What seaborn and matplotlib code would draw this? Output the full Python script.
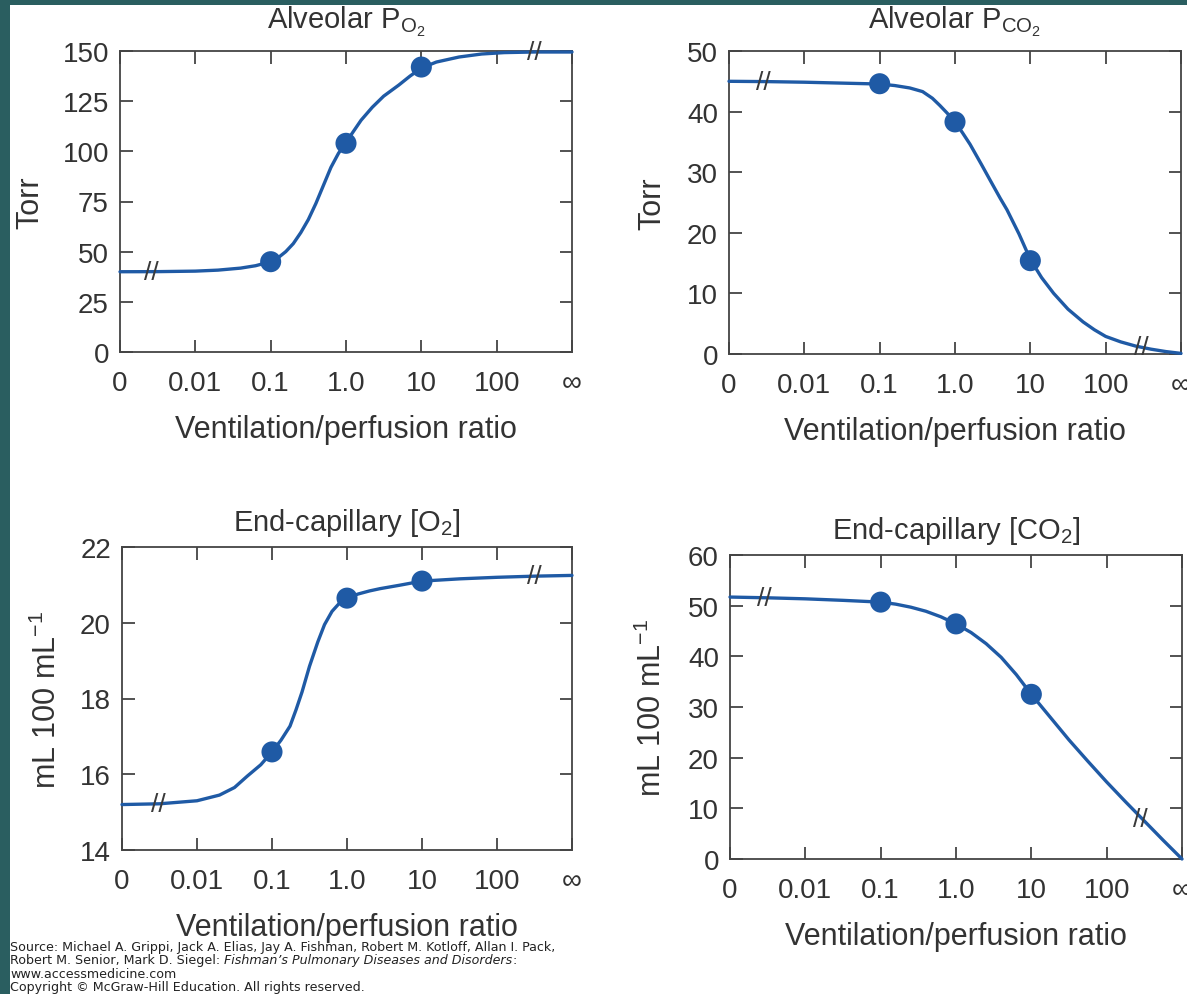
import matplotlib
matplotlib.use("Agg")
import matplotlib.pyplot as plt
import seaborn as sns
import pandas as pd
from matplotlib.patches import Rectangle

# ---------------- data ----------------
# x positions: 0 -> "0", 1 -> 0.01, 2 -> 0.1, 3 -> 1.0, 4 -> 10, 5 -> 100, 6 -> infinity
tick_pos = [0, 1, 2, 3, 4, 5, 6]
tick_labels = ["0", "0.01", "0.1", "1.0", "10", "100", "∞"]

# Alveolar PO2 curve (Torr)
po2_u = [0, 0.5, 1.0, 1.3, 1.6, 1.8, 2.0, 2.1, 2.2, 2.3, 2.4, 2.5, 2.6, 2.7, 2.8, 2.9, 3.0,
         3.1, 3.2, 3.35, 3.5, 3.7, 3.85, 4.0, 4.2, 4.5, 4.8, 5.1, 5.5, 6.0]
po2_v = [40, 40.05, 40.3, 40.8, 41.8, 43.0, 45, 47, 50, 54, 59.5, 66, 74, 83, 92, 99, 104.5,
         110, 115.5, 122, 127.5, 133, 137.5, 141.5, 144.5, 147, 148.5, 149.2, 149.5, 149.5]
po2_pts_u = [2, 3, 4]
po2_pts_v = [45, 104, 142]

# Alveolar PCO2 curve (Torr)
pco2_u = [0, 0.5, 1.0, 1.5, 2.0, 2.2, 2.4, 2.57, 2.7, 2.8, 2.9, 3.0, 3.1, 3.2, 3.35, 3.47,
          3.6, 3.69, 3.85, 4.0, 4.15, 4.31, 4.5, 4.7, 4.85, 5.0, 5.2, 5.4, 5.6, 5.8, 6.0]
pco2_v = [45, 44.95, 44.85, 44.7, 44.55, 44.3, 43.9, 43.3, 42.2, 41.0, 39.7, 38.3, 36.5, 34.6,
          31.3, 28.6, 25.7, 23.8, 19.8, 15.6, 12.6, 10.0, 7.4, 5.3, 4.0, 2.9, 2.0, 1.3, 0.8, 0.4, 0.1]
pco2_pts_u = [2, 3, 4]
pco2_pts_v = [44.6, 38.3, 15.4]

# End-capillary [O2] curve (mL 100 mL^-1)
o2_u = [0, 0.5, 1.0, 1.3, 1.5, 1.67, 1.85, 2.0, 2.12, 2.24, 2.32, 2.4, 2.5, 2.61, 2.7, 2.8,
        2.9, 3.0, 3.15, 3.3, 3.44, 3.7, 4.0, 4.51, 5.0, 5.5, 6.0]
o2_v = [15.2, 15.22, 15.3, 15.45, 15.65, 15.95, 16.25, 16.59, 16.9, 17.27, 17.7, 18.17, 18.85,
        19.49, 19.95, 20.3, 20.52, 20.65, 20.76, 20.84, 20.9, 20.99, 21.1, 21.16, 21.2, 21.23, 21.25]
o2_pts_u = [2, 3, 4]
o2_pts_v = [16.59, 20.65, 21.1]

# End-capillary [CO2] curve (mL 100 mL^-1)
co2_u = [0, 0.5, 1.0, 1.5, 2.0, 2.2, 2.4, 2.6, 2.8, 3.0, 3.2, 3.4, 3.6, 3.8, 4.0, 4.25,
         4.5, 4.75, 5.0, 5.25, 5.5, 5.75, 6.0]
co2_v = [51.7, 51.55, 51.35, 51.05, 50.7, 50.3, 49.7, 48.9, 47.8, 46.4, 44.7, 42.5, 39.8,
         36.4, 32.5, 28.0, 23.5, 19.3, 15.2, 11.3, 7.5, 3.7, 0.0]
co2_pts_u = [2, 3, 4]
co2_pts_v = [50.7, 46.4, 32.5]

# axis break marks (u, value) for each panel
po2_breaks_u, po2_breaks_v = [0.42, 5.5], [40, 149.5]
pco2_breaks_u, pco2_breaks_v = [0.45, 5.47], [44.95, 1.1]
o2_breaks_u, o2_breaks_v = [0.48, 5.5], [15.22, 21.23]
co2_breaks_u, co2_breaks_v = [0.45, 5.45], [51.55, 7.9]

po2_yticks = [0, 25, 50, 75, 100, 125, 150]
pco2_yticks = [0, 10, 20, 30, 40, 50]
o2_yticks = [14, 16, 18, 20, 22]
co2_yticks = [0, 10, 20, 30, 40, 50, 60]

titles = [r"Alveolar P$_{\mathregular{O_2}}$", r"Alveolar P$_{\mathregular{CO_2}}$",
          r"End-capillary [O$_\mathregular{2}$]", r"End-capillary [CO$_\mathregular{2}$]"]
ylabels = ["Torr", "Torr", r"mL 100 mL$^{\mathregular{-1}}$", r"mL 100 mL$^{\mathregular{-1}}$"]
xlabel = "Ventilation/perfusion ratio"

# ---------------- style ----------------
sns.set_theme(style="ticks")
plt.rcParams["font.family"] = ["Liberation Sans", "DejaVu Sans"]
plt.rcParams["mathtext.fontset"] = "custom"
plt.rcParams["mathtext.rm"] = "Liberation Sans"
plt.rcParams["mathtext.it"] = "Liberation Sans:italic"
plt.rcParams["mathtext.default"] = "regular"

TXT = "#333333"
BLUE = "#1f5aa5"
SPINE = "#444444"

fig = plt.figure(figsize=(11.87, 9.95), dpi=100)
fig.patch.set_facecolor("#2a5e60")
fig.patches.append(Rectangle((10 / 1187, 0), 1 - 10 / 1187, 1 - 6 / 995,
                             transform=fig.transFigure, facecolor="white",
                             edgecolor="none", zorder=-10))

positions = [
    [120 / 1187, 1 - 353 / 995, 452 / 1187, 301 / 995],
    [729 / 1187, 1 - 355 / 995, 452 / 1187, 303 / 995],
    [122 / 1187, 1 - 851 / 995, 450 / 1187, 303 / 995],
    [730 / 1187, 1 - 860 / 995, 452 / 1187, 304 / 995],
]
title_pads = [17, 17, 12, 12]
ylabel_pads = [12, 14, 12, 14]

panels = [
    (po2_u, po2_v, po2_pts_u, po2_pts_v, po2_breaks_u, po2_breaks_v, po2_yticks),
    (pco2_u, pco2_v, pco2_pts_u, pco2_pts_v, pco2_breaks_u, pco2_breaks_v, pco2_yticks),
    (o2_u, o2_v, o2_pts_u, o2_pts_v, o2_breaks_u, o2_breaks_v, o2_yticks),
    (co2_u, co2_v, co2_pts_u, co2_pts_v, co2_breaks_u, co2_breaks_v, co2_yticks),
]

for i, (pos, (cu, cv, pu, pv, bu, bv, yt)) in enumerate(zip(positions, panels)):
    ax = fig.add_axes(pos)
    ax.set_facecolor("white")
    curve = pd.DataFrame({"u": cu, "v": cv})
    pts = pd.DataFrame({"u": pu, "v": pv})
    sns.lineplot(data=curve, x="u", y="v", ax=ax, color=BLUE, linewidth=2.4,
                 sort=False, clip_on=False, zorder=3)
    sns.scatterplot(data=pts, x="u", y="v", ax=ax, color=BLUE, s=230,
                    edgecolor="none", zorder=4, clip_on=False)
    for x, y in zip(bu, bv):
        ax.text(x, y, "//", ha="center", va="center", fontsize=19,
                color="#3a3a3a", zorder=5)
    ax.set_xlim(0, 6)
    ax.set_ylim(yt[0], yt[-1])
    ax.set_xticks(tick_pos)
    ax.set_xticklabels(tick_labels)
    ax.set_yticks(yt)
    ax.tick_params(axis="both", direction="in", length=9, width=1.3,
                   colors=SPINE, labelcolor=TXT, labelsize=20,
                   top=True, right=True)
    ax.tick_params(axis="x", pad=13)
    ax.tick_params(axis="y", pad=8)
    for s in ax.spines.values():
        s.set_color(SPINE)
        s.set_linewidth(1.3)
    ax.set_xlabel(xlabel, fontsize=22, color=TXT, labelpad=13)
    ax.set_ylabel(ylabels[i], fontsize=22, color=TXT, labelpad=ylabel_pads[i])
    ax.set_title(titles[i], fontsize=21, color=TXT, pad=title_pads[i])

# ---------------- source note ----------------
fs = 9.1
ftxt = dict(fontsize=fs, color="#222222", family=["DejaVu Sans"], va="baseline")
y0 = 1 - 951 / 995
dy = 13.3 / 995
x0 = 10 / 1187
fig.text(x0, y0, "Source: Michael A. Grippi, Jack A. Elias, Jay A. Fishman, Robert M. Kotloff, Allan I. Pack,", **ftxt)
t1 = fig.text(x0, y0 - dy, "Robert M. Senior, Mark D. Siegel: ", **ftxt)
r = fig.canvas.get_renderer()
bb = t1.get_window_extent(r)
t2 = fig.text(bb.x1 / fig.bbox.width, y0 - dy, "Fishman’s Pulmonary Diseases and Disorders", style="italic", **ftxt)
bb2 = t2.get_window_extent(r)
fig.text(bb2.x1 / fig.bbox.width, y0 - dy, ":", **ftxt)
fig.text(x0, y0 - 2 * dy, "www.accessmedicine.com", **ftxt)
fig.text(x0, y0 - 3 * dy, "Copyright © McGraw-Hill Education. All rights reserved.", **ftxt)

fig.savefig("out.png", dpi=100)
